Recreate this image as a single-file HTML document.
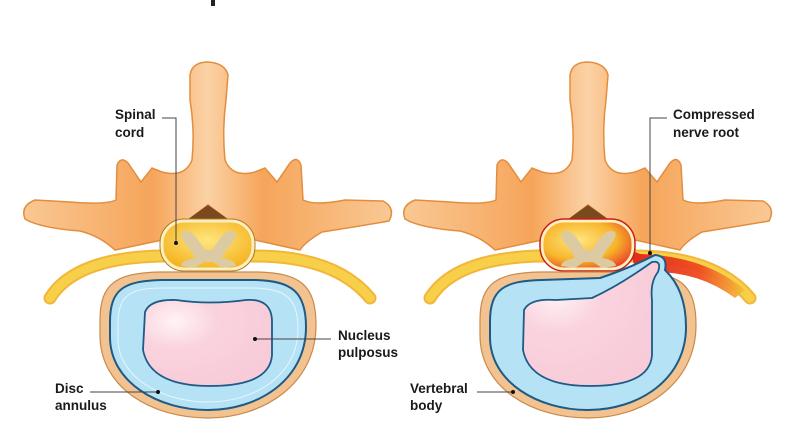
<!DOCTYPE html>
<html><head><meta charset="utf-8"><style>
html,body{margin:0;padding:0;background:#fff;}
svg{display:block}
text{font-family:"Liberation Sans",sans-serif;font-size:13.5px;font-weight:bold;fill:#1a1a1a;}
</style></head><body>
<svg width="800" height="445" viewBox="0 0 800 445" xmlns="http://www.w3.org/2000/svg">
<defs>
<linearGradient id="bone" x1="0" y1="0" x2="1" y2="0">
<stop offset="0" stop-color="#f9c894"/><stop offset="0.35" stop-color="#f6a55a"/><stop offset="0.5" stop-color="#fbd2a6"/><stop offset="0.65" stop-color="#f6a55a"/><stop offset="1" stop-color="#f9c894"/>
</linearGradient>
<radialGradient id="cord" cx="0.5" cy="0.4" r="0.6"><stop offset="0" stop-color="#ffe680"/><stop offset="1" stop-color="#f5b523"/></radialGradient>
<radialGradient id="cordr" cx="0.4" cy="0.4" r="0.7"><stop offset="0" stop-color="#ffe680"/><stop offset="0.6" stop-color="#f7b52a"/><stop offset="1" stop-color="#e8402a"/></radialGradient>
<radialGradient id="pink" cx="0.25" cy="0.25" r="0.8"><stop offset="0" stop-color="#fff3f6"/><stop offset="0.4" stop-color="#fad3df"/><stop offset="1" stop-color="#f8cbd8"/></radialGradient>
<linearGradient id="red" x1="0" y1="0" x2="1" y2="0"><stop offset="0" stop-color="#e0201a"/><stop offset="0.6" stop-color="#ee4a1e"/><stop offset="1" stop-color="#f5c03a"/></linearGradient>
<g id="vert">
<path d="M190,75 Q192,62 208,62 Q225,63 228,75 L226,100 Q222,130 225,160 Q232,178 255,172 L265,168 L277,182 L290,163 Q297,155 301,165 L303,200 Q315,206 345,200 L383,201 Q396,208 389,221 Q360,226 322,232 Q305,242 300,250 L255,240 L208,205 L162,240 L115,250 Q100,236 80,231 Q40,228 25,219 Q20,206 35,200 L70,202 Q105,205 116,200 L117,165 Q121,156 128,163 L141,182 L152,168 L162,172 Q185,178 192,160 Q195,130 190,100 Z" fill="url(#bone)" stroke="#e38d3e" stroke-width="1.5"/>
<path d="M208,205 L232,222 L184,222 Z" fill="#7a4a1e"/>
</g>
<g id="band">
<path d="M50,298 Q75,258 160,256 L255,256 Q335,256 370,298" fill="none" stroke="#f2b63a" stroke-width="13" stroke-linecap="round"/>
<path d="M50,298 Q75,258 160,256 L255,256 Q335,256 370,298" fill="none" stroke="#f8cf48" stroke-width="9" stroke-linecap="round"/>
</g>
<path id="butter" d="M182,232 Q190,228 198,240 L205,250 L212,250 L219,240 Q227,228 235,232 Q238,238 226,250 L222,258 Q235,260 236,266 L222,268 L213,262 L204,262 L195,268 L181,266 Q182,260 195,258 L191,250 Q179,238 182,232 Z" fill="#dccba2"/>
<path id="tan" d="M100,320 C100,282 118,273 160,272 L258,272 C300,273 316,285 316,325 C316,385 262,418 208,418 C152,418 100,388 100,335 Z" fill="#f2c390" stroke="#c98a4c" stroke-width="1.2"/>
</defs>

<rect x="211" y="0" width="4" height="6" fill="#222"/>

<!-- LEFT -->
<use href="#vert"/>
<use href="#band"/>
<rect x="162" y="221" width="91" height="48" rx="22" ry="22" fill="url(#cord)" stroke="#fff0c0" stroke-width="3"/>
<rect x="160" y="219" width="95" height="52" rx="24" ry="24" fill="none" stroke="#b07a28" stroke-width="1"/>
<use href="#butter"/>
<use href="#tan"/>
<path d="M110,322 C110,288 125,281 162,280 L256,280 C292,281 306,292 306,327 C306,380 258,410 208,410 C158,410 110,382 110,337 Z" fill="#b6e2f5" stroke="#1d5a86" stroke-width="2"/>
<path d="M118,324 C118,294 131,288 164,288 L254,288 C286,289 298,298 298,329 C298,375 255,402 208,402 C162,402 118,377 118,339 Z" fill="none" stroke="#e6f6fd" stroke-width="1"/>
<path d="M145,312 Q150,299 176,300 Q210,305 246,300 Q272,298 272,322 L272,355 Q270,386 210,386 Q150,386 143,350 Z" fill="url(#pink)" stroke="#1d5a86" stroke-width="1.8"/>

<!-- RIGHT -->
<g transform="translate(380,0)">
<use href="#vert"/>
<use href="#band"/>
</g>
<path d="M630,250 L640,254 Q705,256 745,290 L735,298 Q700,272 655,272 L635,268 Z" fill="url(#red)" opacity="0.95"/>
<rect x="542" y="221" width="91" height="48" rx="22" ry="22" fill="url(#cordr)" stroke="#fff0c0" stroke-width="3"/>
<rect x="540" y="219" width="95" height="52" rx="24" ry="24" fill="none" stroke="#c8201a" stroke-width="1.5"/>
<use href="#butter" transform="translate(380,0)"/>
<use href="#tan" transform="translate(380,0)"/>
<path d="M490,322 C490,288 505,281 542,280 L600,278 Q630,268 655,255 Q668,256 665,270 Q686,290 686,327 C686,380 638,410 588,410 C538,410 490,382 490,337 Z" fill="#b6e2f5" stroke="#1d5a86" stroke-width="2"/>
<path d="M524,310 Q530,298 556,300 L592,298 Q620,285 652,262 Q662,260 658,272 Q650,282 652,300 L652,355 Q650,386 590,386 Q530,386 523,350 Z" fill="url(#pink)" stroke="#1d5a86" stroke-width="1.8"/>

<!-- Labels -->
<g fill="none" stroke="#444" stroke-width="1">
<path d="M162,118 H176 V243"/>
<path d="M255,339 H331"/>
<path d="M90,392 H158"/>
<path d="M667,118 H650 V253"/>
<path d="M477,392 H513"/>
</g>
<g fill="#111">
<circle cx="176" cy="243" r="2"/><circle cx="255" cy="339" r="2"/><circle cx="158" cy="392" r="2"/>
<circle cx="650" cy="253" r="2"/><circle cx="513" cy="392" r="2"/>
</g>
<text x="115" y="119">Spinal</text><text x="115" y="137">cord</text>
<text x="338" y="340">Nucleus</text><text x="338" y="357">pulposus</text>
<text x="55" y="393">Disc</text><text x="55" y="410">annulus</text>
<text x="673" y="119">Compressed</text><text x="673" y="137">nerve root</text>
<text x="410" y="393">Vertebral</text><text x="410" y="410">body</text>
</svg>
</body></html>
